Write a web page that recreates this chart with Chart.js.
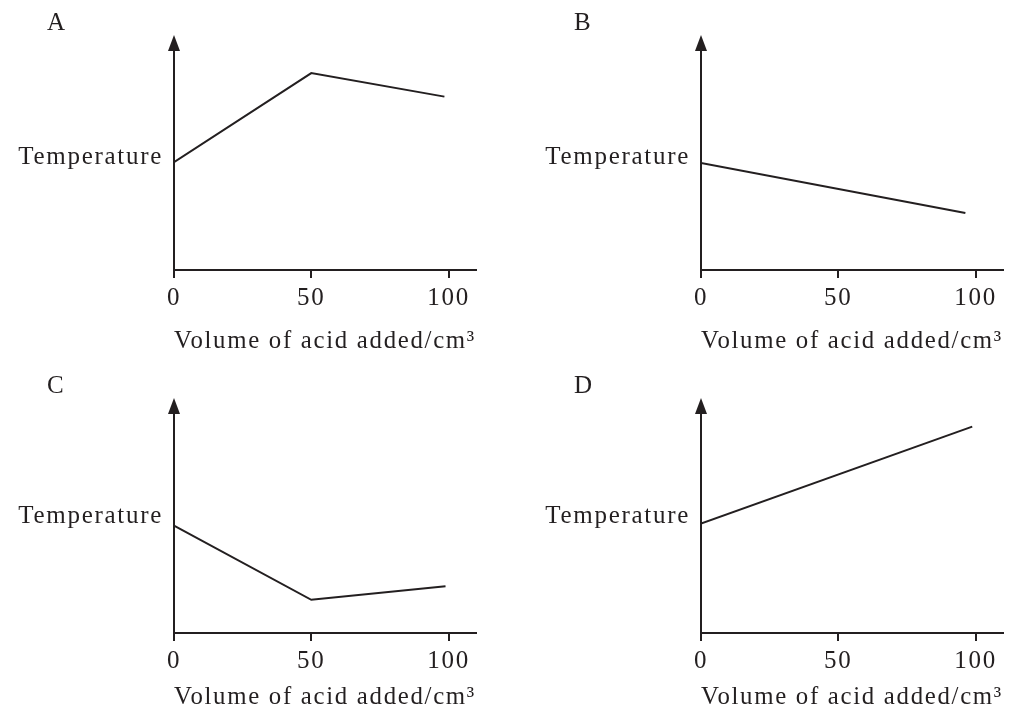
<!DOCTYPE html>
<html>
<head>
<meta charset="utf-8">
<script src="https://cdn.jsdelivr.net/npm/chart.js@4"></script>
<style>
    html, body { margin: 0; padding: 0; background: #fff; }
    body { width: 1013px; height: 709px; position: relative; overflow: hidden; }
    canvas { position: absolute; }
</style>
</head>
<body>
<canvas id="chartA" width="486" height="363" style="left:0px;top:0px"></canvas>
<canvas id="chartB" width="486" height="363" style="left:527px;top:0px"></canvas>
<canvas id="chartC" width="486" height="363" style="left:0px;top:363px"></canvas>
<canvas id="chartD" width="486" height="363" style="left:527px;top:363px"></canvas>
<script>
// panel letters and axis texts
const panelNames = ['A', 'B', 'C', 'D'];
const yAxisLabel = 'Temperature';
const xAxisLabel = 'Volume of acid added/cm³';
const xTicks = [0, 50, 100];

// volume of acid added (cm3) and temperature (arbitrary units, 0 = x axis) for each graph
const volumeA = [0, 50, 98.5];
const tempA = [49, 89.5, 78.8];
const volumeB = [0, 96.3];
const tempB = [48.6, 25.9];
const volumeC = [0, 50, 98.9];
const tempC = [48.8, 15.1, 21.2];
const volumeD = [0, 98.8];
const tempD = [49.7, 93.8];

// where the "Temperature" label sits on the y axis
const labelAt = [51, 51, 53, 53];

document.addEventListener('DOMContentLoaded', function() {
    const ink = '#231f20';
    Chart.defaults.font.family = '"Liberation Serif", "Times New Roman", serif';
    Chart.defaults.font.size = 25;
    Chart.defaults.color = ink;

    const volumes = [volumeA, volumeB, volumeC, volumeD];
    const temps = [tempA, tempB, tempC, tempD];
    const titlePad = [7, 7, 14, 14];

    // arrow head on top of the y axis + a bit wider lettering
    const axisArrow = {
        id: 'axisArrow',
        afterLayout(chart) {
            // panel letter sits left of the axis, not at the canvas edge
            if (chart.titleBlock) chart.titleBlock.left = 47;
        },
        beforeDraw(chart) {
            chart.ctx.letterSpacing = '1.7px';
        },
        afterDraw(chart) {
            const ctx = chart.ctx;
            const { left, top } = chart.chartArea;
            ctx.save();
            ctx.fillStyle = ink;
            ctx.beginPath();
            ctx.moveTo(left, top - 15);
            ctx.lineTo(left - 6, top + 1);
            ctx.lineTo(left + 6, top + 1);
            ctx.closePath();
            ctx.fill();
            ctx.restore();
        }
    };

    panelNames.forEach(function(name, i) {
        const ctx = document.getElementById('chart' + name).getContext('2d');
        new Chart(ctx, {
            type: 'line',
            data: {
                datasets: [{
                    data: volumes[i].map((v, k) => ({ x: v, y: temps[i][k] })),
                    borderColor: ink,
                    borderWidth: 2,
                    pointRadius: 0,
                    tension: 0
                }]
            },
            options: {
                responsive: false,
                animation: false,
                devicePixelRatio: 1,
                layout: { padding: { left: 0, right: 10, top: 0, bottom: 0 } },
                plugins: {
                    legend: { display: false },
                    tooltip: { enabled: false },
                    title: {
                        display: true,
                        text: name,
                        align: 'start',
                        color: ink,
                        font: { size: 25, weight: 'normal' },
                        padding: { top: 8, bottom: 12 }
                    }
                },
                scales: {
                    x: {
                        type: 'linear',
                        min: 0,
                        max: 110,
                        afterBuildTicks: function(scale) {
                            scale.ticks = xTicks.map(v => ({ value: v }));
                        },
                        afterFit: function(scale) {
                            scale.height = 363 - 270;
                        },
                        ticks: { padding: 5, maxRotation: 0, autoSkip: false },
                        grid: {
                            drawOnChartArea: false,
                            drawTicks: true,
                            tickLength: 8,
                            color: ink,
                            lineWidth: 2
                        },
                        border: { display: true, color: ink, width: 2 },
                        title: {
                            display: true,
                            text: xAxisLabel,
                            align: 'start',
                            padding: { top: 0, bottom: titlePad[i] }
                        }
                    },
                    y: {
                        type: 'linear',
                        min: 0,
                        max: 100,
                        afterBuildTicks: function(scale) {
                            scale.ticks = [{ value: labelAt[i] }];
                        },
                        afterFit: function(scale) {
                            scale.width = 174;
                        },
                        ticks: {
                            padding: 11,
                            callback: function() { return yAxisLabel; }
                        },
                        grid: { display: false, drawTicks: false },
                        border: { display: true, color: ink, width: 2 }
                    }
                }
            },
            plugins: [axisArrow]
        });
    });
});
</script>
</body>
</html>
